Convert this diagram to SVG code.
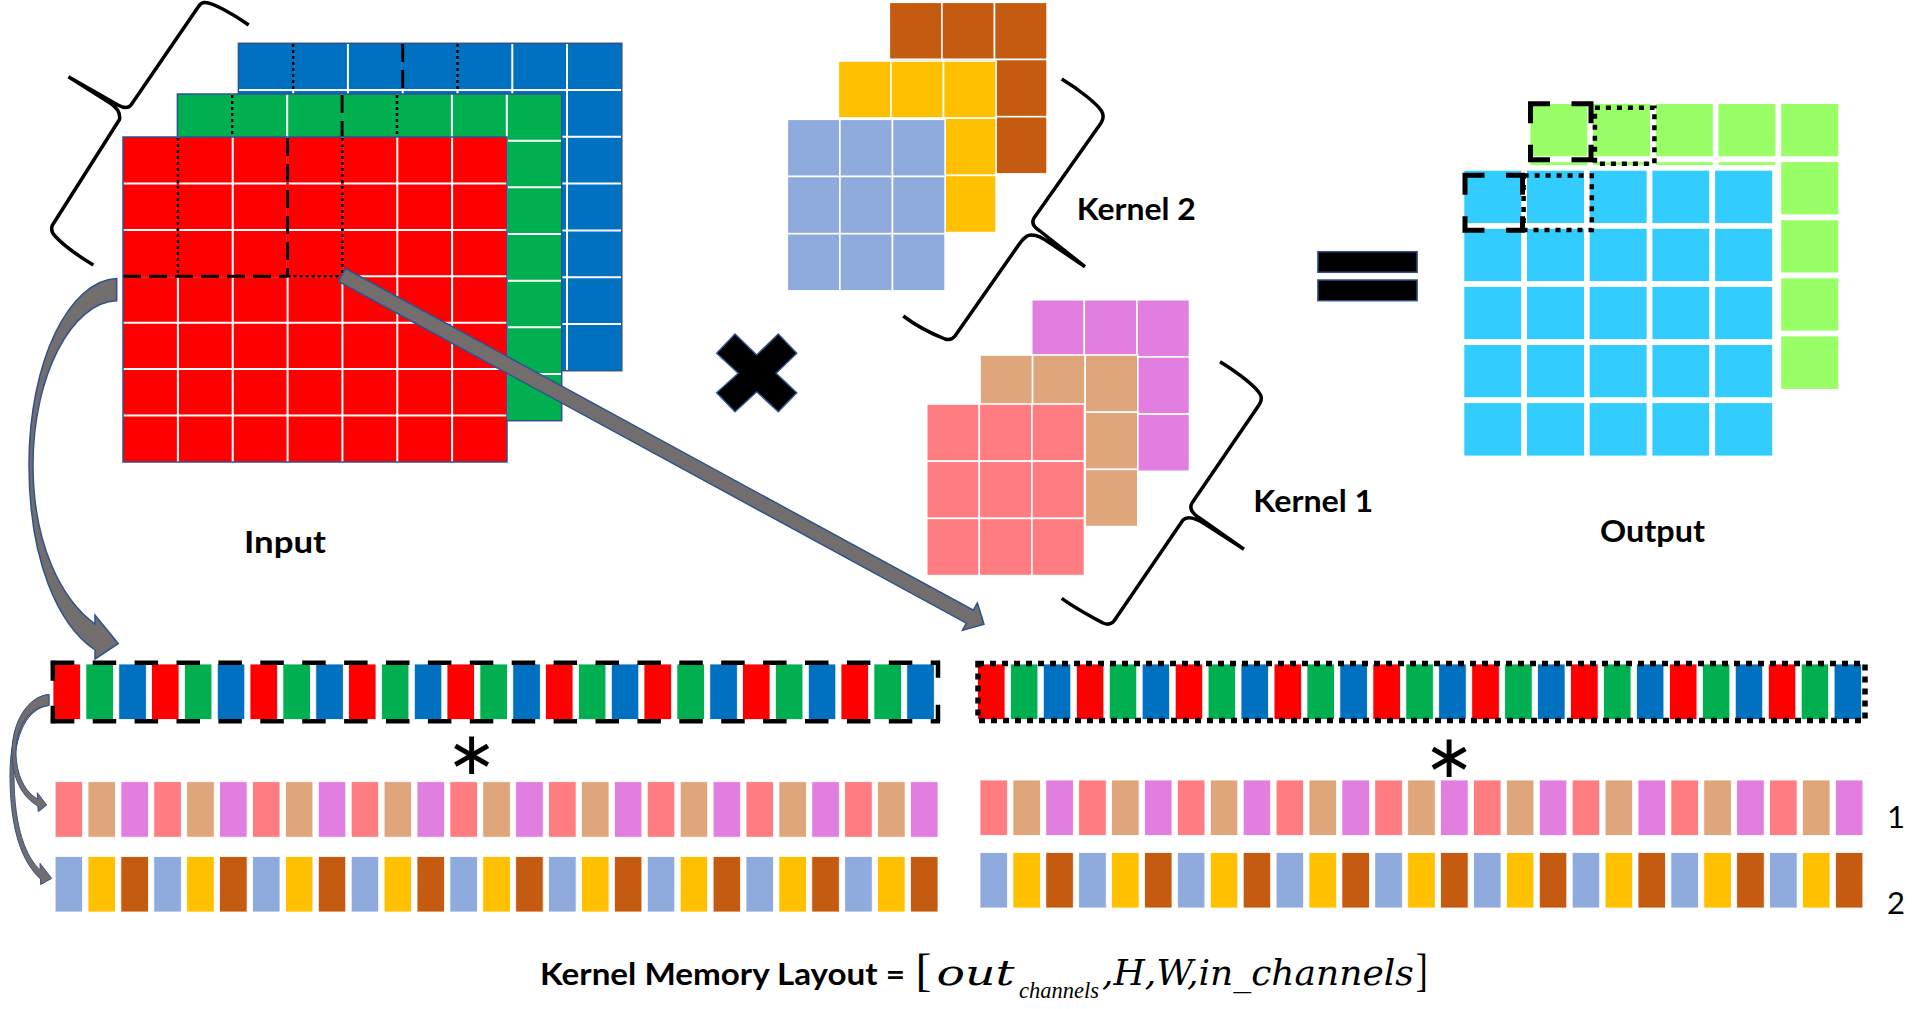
<svg xmlns="http://www.w3.org/2000/svg" xmlns:xlink="http://www.w3.org/1999/xlink" width="1913" height="1009" viewBox="0 0 1913 1009">
<style>
.lbl{font-family:Lato,"Open Sans","Liberation Sans",sans-serif;font-weight:700;font-size:31px;fill:#000}
.num{font-family:Lato,"Liberation Sans",sans-serif;font-size:31px;fill:#000}
.math{font-family:"DejaVu Serif","Liberation Serif",serif;font-style:italic;font-size:36px;fill:#000}
.sub{font-family:"Liberation Serif","DejaVu Serif",serif;font-style:italic;font-size:24px;fill:#000}
.brk{font-family:"Liberation Serif","DejaVu Serif",serif;font-size:46px;fill:#000}
.ast{font-family:"DejaVu Sans",sans-serif;font-size:60px;fill:#000}
.brace{fill:none;stroke:#000;stroke-width:3.5;stroke-linejoin:round}
.border{fill:none;stroke:#2F528F;stroke-width:1.5}
.wl{fill:none;stroke:#fff;stroke-width:2}
.dash{fill:none;stroke:#000;stroke-width:3;stroke-dasharray:18 8}
.dot{fill:none;stroke:#000;stroke-width:2.5;stroke-dasharray:3 3}
.arrow{fill:#736E6E;stroke:#2F528F;stroke-width:1.5}
.kc rect{stroke:#fff;stroke-width:1.6}
.oc rect{stroke:#fff;stroke-width:5.6}
.bars rect{stroke:#fff;stroke-width:0.8}
.odash{fill:none;stroke:#000;stroke-width:5;stroke-dasharray:22 21.5}
.odot{fill:none;stroke:#000;stroke-width:4.5;stroke-dasharray:5 6}
</style>
<defs>
<g id="k3" class="kc">
<rect x="0" y="0" width="52.6" height="57.2"/><rect x="52.6" y="0" width="52.6" height="57.2"/><rect x="105.2" y="0" width="52.6" height="57.2"/>
<rect x="0" y="57.2" width="52.6" height="57.2"/><rect x="52.6" y="57.2" width="52.6" height="57.2"/><rect x="105.2" y="57.2" width="52.6" height="57.2"/>
<rect x="0" y="114.4" width="52.6" height="57.2"/><rect x="52.6" y="114.4" width="52.6" height="57.2"/><rect x="105.2" y="114.4" width="52.6" height="57.2"/>
</g>
<g id="orow" class="oc">
<rect x="0" y="0" width="62.7" height="58.1"/><rect x="62.7" y="0" width="62.7" height="58.1"/><rect x="125.4" y="0" width="62.7" height="58.1"/><rect x="188.1" y="0" width="62.7" height="58.1"/><rect x="250.8" y="0" width="62.7" height="58.1"/>
</g>
<g id="o5">
<use xlink:href="#orow" y="0"/><use xlink:href="#orow" y="58.1"/><use xlink:href="#orow" y="116.2"/><use xlink:href="#orow" y="174.3"/><use xlink:href="#orow" y="232.4"/>
</g>
<g id="rgb" class="bars"><rect x="0" width="27.5" height="55.5" fill="#FF0000"/><rect x="32.9" width="27.5" height="55.5" fill="#00B050"/><rect x="65.8" width="27.5" height="55.5" fill="#0070C0"/></g>
<g id="k1t" class="bars"><rect x="0" width="27.5" height="55.5" fill="#FF7C80"/><rect x="32.9" width="27.5" height="55.5" fill="#DFA67B"/><rect x="65.8" width="27.5" height="55.5" fill="#E27EE0"/></g>
<g id="k2t" class="bars"><rect x="0" width="27.5" height="55.5" fill="#8FAADC"/><rect x="32.9" width="27.5" height="55.5" fill="#FFC000"/><rect x="65.8" width="27.5" height="55.5" fill="#C55A11"/></g>
</defs>
<rect width="1913" height="1009" fill="#fff"/>

<g id="input">
<g id="input-blue">
<rect x="238.4" y="43.3" width="383.4" height="327.4" fill="#0070C0"/>
<path class="wl" d="M293.2,43.3V370.7M347.9,43.3V370.7M402.7,43.3V370.7M457.5,43.3V370.7M512.3,43.3V370.7M567,43.3V370.7M238.4,90.1H621.8M238.4,136.8H621.8M238.4,183.6H621.8M238.4,230.4H621.8M238.4,277.2H621.8M238.4,323.9H621.8"/>
<path fill="none" stroke="#0070C0" stroke-width="2.6" d="M293.2,44V89M402.7,44V89M457.5,44V89"/>
<path class="dot" d="M293.2,44V89M457.5,44V89"/>
<path class="dash" d="M402.7,44V89"/>
<rect class="border" x="238.4" y="43.3" width="383.4" height="327.4"/>
</g>
<g id="input-green">
<rect x="177.4" y="94" width="384.3" height="326.7" fill="#00B050"/>
<path class="wl" d="M232.3,94V420.7M287.2,94V420.7M342.1,94V420.7M397,94V420.7M451.9,94V420.7M506.8,94V420.7M177.4,140.7H561.7M177.4,187.3H561.7M177.4,234H561.7M177.4,280.7H561.7M177.4,327.3H561.7M177.4,374H561.7"/>
<path fill="none" stroke="#00B050" stroke-width="2.6" d="M232.3,95V138M342.1,95V138M397,95V138"/>
<path class="dot" d="M232.3,95V138M397,95V138"/>
<path class="dash" d="M342.1,95V138"/>
<rect class="border" x="177.4" y="94" width="384.3" height="326.7"/>
</g>
<g id="input-red">
<rect x="123" y="137" width="384" height="325" fill="#FF0000"/>
<path class="wl" d="M177.9,137V462M232.7,137V462M287.6,137V462M342.4,137V462M397.3,137V462M452.1,137V462M123,183.4H507M123,229.9H507M123,276.3H507M123,322.7H507M123,369.1H507M123,415.6H507"/>
<path fill="none" stroke="#FF0000" stroke-width="2.6" d="M177.9,138V276.3M287.6,138V276.3M342.4,138V276.3M124,276.3H342.4"/>
<path class="dot" d="M177.9,138V276.3M342.4,138V276.3M287.6,276.3H342.4"/>
<path class="dash" d="M287.6,138V276.3M123,276.3H287.6"/>
<rect class="border" x="123" y="137" width="384" height="325"/>
</g>
</g>

<g id="input-brace"><path class="brace" d="M248.7,25C232,13 213,3 205,2.5Q201,2.3 198.5,6.5L131,105Q127,110 118,105L68.4,76.7M68.4,76.7L110,103Q121,110 119.5,119.5L52.5,225Q50,231 55,236C65,247 80,257 93.3,265"/></g>

<g id="kernel2">
<use xlink:href="#k3" x="889.3" y="2.3" fill="#C55A11"/>
<use xlink:href="#k3" x="838.3" y="61" fill="#FFC000"/>
<use xlink:href="#k3" x="787.3" y="119.3" fill="#8FAADC"/>
</g>
<g id="kernel2-brace"><path class="brace" d="M1061.7,79C1080,90 1097,104 1101.5,111Q1105,117 1101,123L1034,218Q1030,225 1040,231L1085,266.7M1085,266.7L1050,243Q1035,232 1027,236Q1023,239 1020,243L955,336Q951,341 945,339C930,333 915,325 903.3,316"/></g>

<g id="kernel1">
<use xlink:href="#k3" x="1031.7" y="299.7" fill="#E27EE0"/>
<use xlink:href="#k3" x="980" y="355" fill="#DFA67B"/>
<use xlink:href="#k3" x="926.7" y="404" fill="#FF7C80"/>
</g>
<g id="kernel1-brace"><path class="brace" d="M1220,361.7C1240,374 1256,387 1260,394Q1263,399 1259,405L1192,503Q1188,510 1198,517L1244,549.3M1244,549.3L1205,524Q1189,514 1183,520L1114,621Q1110,626 1103,623C1090,616 1075,608 1061.7,598.3"/></g>

<g id="multiply"><polygon points="716.7,353.3 735,334 756.7,355 778.3,334 796.7,353.3 776,373.3 796.7,392.7 778.3,411.7 756.7,391.7 735,411.7 716.7,392.7 738.3,373.3" fill="#000" stroke="#2F528F" stroke-width="1.5"/></g>

<g id="equals" fill="#000" stroke="#2F528F" stroke-width="1.5">
<rect x="1317.9" y="251.7" width="99.2" height="20.6"/>
<rect x="1317.9" y="280" width="99.2" height="20.7"/>
</g>

<g id="output">
<use xlink:href="#o5" x="1527.6" y="101.2" fill="#99FF66"/>
<use xlink:href="#o5" x="1461.5" y="167.9" fill="#33CCFF"/>
<path class="odash" d="M1528,103.7H1593.5M1528,159.7H1593.5M1530.5,101.2V162.2M1591,101.2V162.2"/>
<rect class="odot" x="1594.9" y="107.7" width="59.5" height="56"/>
<path class="odash" d="M1462.5,175.2H1525M1462.5,230.2H1525M1465,172.7V232.7M1522.5,172.7V232.7"/>
<rect class="odot" x="1523.6" y="175.5" width="68.2" height="54.5"/>
</g>

<g id="input-row">
<use xlink:href="#rgb" x="53" y="664"/><use xlink:href="#rgb" x="151.5" y="664"/><use xlink:href="#rgb" x="250" y="664"/><use xlink:href="#rgb" x="348.5" y="664"/><use xlink:href="#rgb" x="447" y="664"/><use xlink:href="#rgb" x="545.5" y="664"/><use xlink:href="#rgb" x="644" y="664"/><use xlink:href="#rgb" x="742.5" y="664"/><use xlink:href="#rgb" x="841" y="664"/>
<path fill="none" stroke="#000" stroke-width="4.5" stroke-dasharray="23.5 18.4" d="M50.8,662.7H940M50.8,721.3H940"/>
<path fill="none" stroke="#000" stroke-width="4.5" stroke-dasharray="20 25" d="M52.8,660.7V723.3"/>
<path fill="none" stroke="#000" stroke-width="4.5" stroke-dasharray="17 27" d="M938,660.7V723.3"/>
</g>
<g id="kernel-rows-left">
<use xlink:href="#k1t" x="55.1" y="781.7"/><use xlink:href="#k1t" x="153.8" y="781.7"/><use xlink:href="#k1t" x="252.5" y="781.7"/><use xlink:href="#k1t" x="351.2" y="781.7"/><use xlink:href="#k1t" x="449.9" y="781.7"/><use xlink:href="#k1t" x="548.6" y="781.7"/><use xlink:href="#k1t" x="647.3" y="781.7"/><use xlink:href="#k1t" x="746" y="781.7"/><use xlink:href="#k1t" x="844.7" y="781.7"/>
<use xlink:href="#k2t" x="55.1" y="856.5"/><use xlink:href="#k2t" x="153.8" y="856.5"/><use xlink:href="#k2t" x="252.5" y="856.5"/><use xlink:href="#k2t" x="351.2" y="856.5"/><use xlink:href="#k2t" x="449.9" y="856.5"/><use xlink:href="#k2t" x="548.6" y="856.5"/><use xlink:href="#k2t" x="647.3" y="856.5"/><use xlink:href="#k2t" x="746" y="856.5"/><use xlink:href="#k2t" x="844.7" y="856.5"/>
</g>
<g id="input-row-right">
<use xlink:href="#rgb" x="977.5" y="664"/><use xlink:href="#rgb" x="1076.35" y="664"/><use xlink:href="#rgb" x="1175.2" y="664"/><use xlink:href="#rgb" x="1274.05" y="664"/><use xlink:href="#rgb" x="1372.9" y="664"/><use xlink:href="#rgb" x="1471.75" y="664"/><use xlink:href="#rgb" x="1570.6" y="664"/><use xlink:href="#rgb" x="1669.45" y="664"/><use xlink:href="#rgb" x="1768.3" y="664"/>
<rect class="odot" x="978" y="663.5" width="887" height="57" style="stroke-width:5.5;stroke-dasharray:6 6"/>
</g>
<g id="kernel-rows-right">
<use xlink:href="#k1t" x="980" y="780"/><use xlink:href="#k1t" x="1078.7" y="780"/><use xlink:href="#k1t" x="1177.4" y="780"/><use xlink:href="#k1t" x="1276.1" y="780"/><use xlink:href="#k1t" x="1374.8" y="780"/><use xlink:href="#k1t" x="1473.5" y="780"/><use xlink:href="#k1t" x="1572.2" y="780"/><use xlink:href="#k1t" x="1670.9" y="780"/><use xlink:href="#k1t" x="1769.6" y="780"/>
<use xlink:href="#k2t" x="980" y="852.5"/><use xlink:href="#k2t" x="1078.7" y="852.5"/><use xlink:href="#k2t" x="1177.4" y="852.5"/><use xlink:href="#k2t" x="1276.1" y="852.5"/><use xlink:href="#k2t" x="1374.8" y="852.5"/><use xlink:href="#k2t" x="1473.5" y="852.5"/><use xlink:href="#k2t" x="1572.2" y="852.5"/><use xlink:href="#k2t" x="1670.9" y="852.5"/><use xlink:href="#k2t" x="1769.6" y="852.5"/>
</g>

<g id="connectors">
<path class="arrow" d="M116.7,278.4C70,280 29,360 29,465C29,560 58,625 95,650L95,659L118.3,643.7L95,615L95,624C62,600 33,545 33,465C33,375 72,302 116.7,300.8Z"/>
<polygon class="arrow" points="345.5,268.5 973.4,610.2 977.4,603 984,624.3 962.4,630.4 966.4,623.2 338.5,281.5"/>
<path class="arrow" style="stroke-width:1" d="M49,694.5C25,697 10,730 10,775C10,830 22,862 40.5,879L40.7,884.5L51.7,878.4L40,863.3L40.2,870C27,858 14,830 14,775C14,733 28,708 49,705.5Z"/>
<path class="arrow" style="stroke-width:1" d="M49,694.5C28,696 12,722 12,752C12,778 22,797 37.8,806L38.3,811.8L46.7,805L37.3,792.7L37.8,799C26,793 16,776 16,752C16,725 30,707 49,705.5Z"/>
</g>

<g id="labels">
<text class="lbl" x="244" y="553" textLength="82" lengthAdjust="spacingAndGlyphs">Input</text>
<text class="lbl" x="1076.7" y="220" textLength="119" lengthAdjust="spacingAndGlyphs">Kernel 2</text>
<text class="lbl" x="1253.3" y="512" textLength="120" lengthAdjust="spacingAndGlyphs">Kernel 1</text>
<text class="lbl" x="1600" y="541.7" textLength="105" lengthAdjust="spacingAndGlyphs">Output</text>
<text class="num" x="1887" y="828">1</text>
<text class="num" x="1887" y="914">2</text>
<text class="ast" x="471.5" y="774" text-anchor="middle">∗</text>
<text class="ast" x="1449" y="777" text-anchor="middle">∗</text>
</g>
<g id="formula">
<text class="lbl" x="540" y="985" textLength="365" lengthAdjust="spacingAndGlyphs">Kernel Memory Layout =</text>
<text class="brk" x="915.6" y="986" textLength="16" lengthAdjust="spacingAndGlyphs">[</text>
<text class="math" x="936.6" y="985" textLength="78" lengthAdjust="spacingAndGlyphs">out</text>
<text class="sub" x="1019" y="998" textLength="80" lengthAdjust="spacingAndGlyphs">channels</text>
<text class="math" x="1102" y="985" textLength="311.7" lengthAdjust="spacingAndGlyphs">,H,W,in_channels</text>
<text class="brk" x="1415.8" y="986" textLength="12" lengthAdjust="spacingAndGlyphs">]</text>
</g>
</svg>
